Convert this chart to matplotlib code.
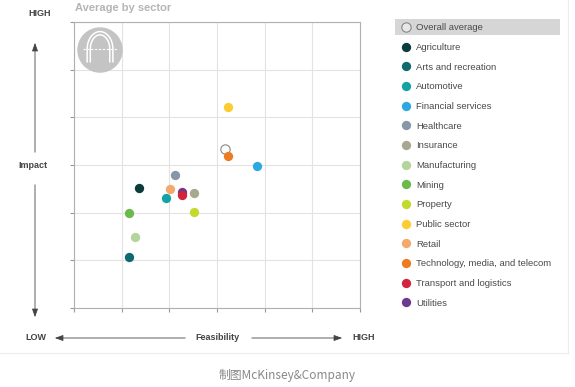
import matplotlib.pyplot as plt
import numpy as np
from matplotlib.patches import Circle, Rectangle

plt.rcParams['font.family'] = ['Liberation Sans', 'DejaVu Sans']

sectores = ["Overall average", "Agriculture", "Arts and recreation", "Automotive",
            "Financial services", "Healthcare", "Insurance", "Manufacturing", "Mining",
            "Property", "Public sector", "Retail", "Technology, media, and telecom",
            "Transport and logistics", "Utilities"]
factibilidad = [3.16, 1.37, 1.15, 1.93, 3.84, 2.12, 2.51, 1.28, 1.15, 2.51, 3.23, 2.02, 3.23, 2.26, 2.26]
impacto = [3.34, 2.51, 1.06, 2.31, 2.97, 2.78, 2.41, 1.49, 2.00, 2.01, 4.21, 2.50, 3.19, 2.38, 2.44]
colores = ["white", "#0b3b3a", "#0e6a6e", "#13a2a6", "#2ea8e0", "#8797a8", "#a7a88f", "#b4d49d",
           "#6cb94c", "#c4d930", "#fdcc30", "#f4a86c", "#ee7b20", "#d2253c", "#6b3a8c"]

W, H = 575, 387
fig = plt.figure(figsize=(W / 100, H / 100), dpi=100)

def fx(px):
    return px / W

def fy(py):
    return 1 - py / H

# grafico principal
ax = fig.add_axes([fx(74), fy(308), fx(286), 286 / H])
ax.set_xlim(0, 6)
ax.set_ylim(0, 6)
ax.set_xticks(range(7))
ax.set_yticks(range(7))
ax.set_xticklabels([])
ax.set_yticklabels([])
ax.tick_params(length=3, color="#999999", width=0.8)
ax.grid(True, color="#e3e3e3", lw=0.8)
ax.set_axisbelow(True)
for s in ax.spines.values():
    s.set_color("#b0b0b0")
    s.set_linewidth(0.8)

# orden de dibujo: el promedio primero
for i in [0, 12, 10, 4, 5, 1, 11, 14, 13, 6, 3, 8, 9, 7, 2]:
    if i == 0:
        ax.scatter(factibilidad[i], impacto[i], s=45, facecolor="white", edgecolor="#888888", lw=0.8, zorder=3)
    else:
        ax.scatter(factibilidad[i], impacto[i], s=45, color=colores[i], lw=0, zorder=3)

# logo
ax.add_patch(Circle((0.091, 0.902), 0.077, transform=ax.transAxes, color="#c4c4c4", zorder=4))
t = np.linspace(0, np.pi, 60)
for hw, alto in [(0.045, 0.0615), (0.034, 0.05)]:
    xs = 0.091 + hw * np.cos(t)
    ys = 0.905 + alto * np.sin(t)
    ax.plot(np.r_[xs[0], xs, xs[-1]], np.r_[0.861, ys, 0.861], color="white", lw=1.1,
            transform=ax.transAxes, zorder=5)
ax.plot([0.03, 0.152], [0.905, 0.905], color="white", lw=0.8, ls=(0, (2, 1.5)), transform=ax.transAxes, zorder=6)

fig.text(fx(75), fy(8), "Average by sector", color="#b5b5b5", fontsize=8, fontweight="bold", va="center")

# ejes con flechas
etq = dict(fontsize=6.5, fontweight="bold", color="#444444", va="center", ha="center")
fig.text(fx(40), fy(14), "HIGH", **etq)
fig.text(fx(33), fy(166), "Impact", **etq)
fig.text(fx(36), fy(338), "LOW", **etq)
fig.text(fx(217), fy(338), "Feasibility", **etq)
fig.text(fx(364), fy(338), "HIGH", **etq)
flecha = dict(arrowstyle="-|>,head_length=0.5,head_width=0.18", color="#444444", lw=0.6)
fig.add_artist(plt.Annotation("", xy=(fx(35), fy(40)), xytext=(fx(35), fy(155)),
                              xycoords="figure fraction", arrowprops=flecha))
fig.add_artist(plt.Annotation("", xy=(fx(35), fy(320)), xytext=(fx(35), fy(182)),
                              xycoords="figure fraction", arrowprops=flecha))
fig.add_artist(plt.Annotation("", xy=(fx(52), fy(338)), xytext=(fx(188), fy(338)),
                              xycoords="figure fraction", arrowprops=flecha))
fig.add_artist(plt.Annotation("", xy=(fx(345), fy(338)), xytext=(fx(249), fy(338)),
                              xycoords="figure fraction", arrowprops=flecha))

# leyenda
lax = fig.add_axes([fx(395), fy(27 + 19.66 * 14.5), fx(165), 19.66 * 15 / H])
lax.set_xlim(0, 165)
lax.set_ylim(14.5, -0.5)
lax.axis("off")
lax.add_patch(Rectangle((0, -0.43), 165, 0.86, color="#d6d6d6", lw=0))
for i, nombre in enumerate(sectores):
    if i == 0:
        lax.scatter(11, i, s=45, facecolor="#e8e8e8", edgecolor="#888888", lw=0.8)
    else:
        lax.scatter(11, i, s=45, color=colores[i], lw=0)
    lax.text(21, i, nombre, fontsize=6.8, color="#4a4a4a", va="center_baseline")

# pie
fig.add_artist(plt.Line2D([0, fx(568)], [fy(353), fy(353)], color="#ececec", lw=0.8))
fig.add_artist(plt.Line2D([fx(568), fx(568)], [fy(353), 1], color="#ececec", lw=0.8))
fig.text(0.5, fy(375), "制图McKinsey&Company", fontsize=8.5, color="#888888",
         ha="center", va="center", family=["Noto Sans CJK SC", "DejaVu Sans"])

fig.savefig("out.png", dpi=100)
